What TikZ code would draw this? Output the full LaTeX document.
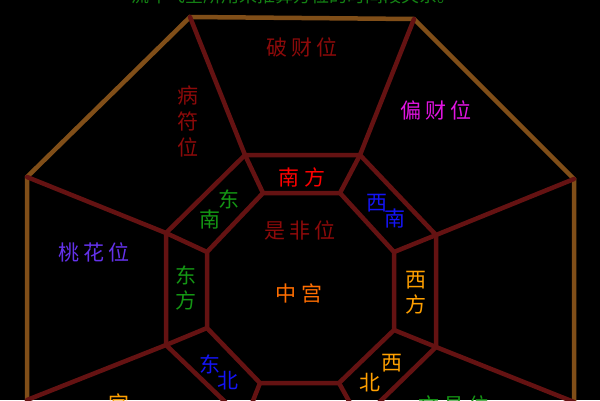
\documentclass[tikz,border=0pt]{standalone}
\usepackage{fontspec}
\newfontfamily\cjk{Noto Sans CJK SC}
\definecolor{frame}{RGB}{128,78,24}
\definecolor{wall}{RGB}{100,18,18}
\definecolor{darkred}{RGB}{140,10,10}
\definecolor{magen}{RGB}{225,20,225}
\definecolor{violet}{RGB}{100,50,235}
\definecolor{grn}{RGB}{20,150,20}
\definecolor{orng}{RGB}{255,110,0}
\definecolor{gold}{RGB}{255,160,0}
\definecolor{blu}{RGB}{20,20,245}
\definecolor{ttl}{RGB}{20,130,20}
\tikzset{
  framel/.style={draw=frame,line width=4.5pt,line join=miter},
  walll/.style={draw=wall,line width=4.5pt,line join=round,line cap=round},
  lab/.style={font=\cjk\fontsize{21}{21}\selectfont,inner sep=0pt,anchor=center},
  vlab/.style={lab,align=center}
}
\newcommand{\gp}{\hspace{4.5pt}}
\begin{document}
\begin{tikzpicture}[x=1pt,y=-1pt]
\fill[black] (0,0) rectangle (600,400);
\useasboundingbox (0,0) rectangle (600,400);
\clip (0,0) rectangle (600,400);
% outer frame
\coordinate (A) at (190,17);
\coordinate (B) at (414,19);
\coordinate (C) at (574,179);
\coordinate (Cb) at (574,410);
\coordinate (D) at (27,177);
\coordinate (Db) at (27,410);
\coordinate (E) at (27,400);
\coordinate (F) at (574,402);
% ring
\coordinate (O1) at (245,155);
\coordinate (O2) at (360,155);
\coordinate (O3) at (436,235);
\coordinate (O4) at (436,347);
\coordinate (O5) at (360,421);
\coordinate (O6) at (245,421);
\coordinate (O7) at (166,345);
\coordinate (O8) at (166,233);
\coordinate (I1) at (263,193);
\coordinate (I2) at (340,193);
\coordinate (I3) at (394,252);
\coordinate (I4) at (394,330);
\coordinate (I5) at (339,383);
\coordinate (I6) at (260,383);
\coordinate (I7) at (207,328);
\coordinate (I8) at (207,252);
\draw[framel] (Db) -- (D) -- (A) -- (B) -- (C) -- (Cb);
\draw[walll] (O1) -- (O2) -- (O3) -- (O4) -- (O5) -- (O6) -- (O7) -- (O8) -- cycle;
\draw[walll] (I1) -- (I2) -- (I3) -- (I4) -- (I5) -- (I6) -- (I7) -- (I8) -- cycle;
\foreach \k in {1,...,8}{\draw[walll] (O\k) -- (I\k);}
\draw[walll] (O1) -- (A);
\draw[walll] (O2) -- (B);
\draw[walll] (O3) -- (C);
\draw[walll] (O4) -- (F);
\draw[walll] (O7) -- (E);
\draw[walll] (O8) -- (D);
% title
\node[font=\cjk\fontsize{18}{18}\selectfont,text=ttl,inner sep=0pt] (title) at (293,-4) {流年飞星所用来推算方位的时间段关系。};
% labels
\node[lab,text=darkred] (pocai) at (302,47) {破\gp 财\gp 位};
\node[vlab,text=darkred] (bingfu1) at (188,95) {病};
\node[vlab,text=darkred] (bingfu2) at (188,121) {符};
\node[vlab,text=darkred] (bingfu3) at (188,147) {位};
\node[lab,text=magen] (piancai) at (436,110) {偏\gp 财\gp 位};
\node[lab,text=red] (nanfang) at (302,177) {南\gp 方};
\node[lab,text=grn] (dn1) at (229,199) {东};
\node[lab,text=grn] (dn2) at (210,220) {南};
\node[lab,text=blu] (xn1) at (377,203) {西};
\node[lab,text=blu] (xn2) at (395,219) {南};
\node[lab,text=darkred] (shifei) at (300,230) {是\gp 非\gp 位};
\node[lab,text=violet] (taohua) at (94,252) {桃\gp 花\gp 位};
\node[lab,text=grn] (df1) at (186,275) {东};
\node[lab,text=grn] (df2) at (186,300) {方};
\node[lab,text=orng] (zhong) at (299,293) {中\gp 宫};
\node[lab,text=gold] (xf1) at (416,280) {西};
\node[lab,text=gold] (xf2) at (416,304) {方};
\node[lab,text=blu] (db1) at (210,364) {东};
\node[lab,text=blu] (db2) at (228,381) {北};
\node[lab,text=gold] (xb1) at (392,363) {西};
\node[lab,text=gold] (xb2) at (370,383) {北};
\node[lab,text=gold] (gong) at (119,403) {宫};
\node[lab,text=grn] (wenchang) at (454,405) {文\gp 昌\gp 位};
\end{tikzpicture}
\end{document}
